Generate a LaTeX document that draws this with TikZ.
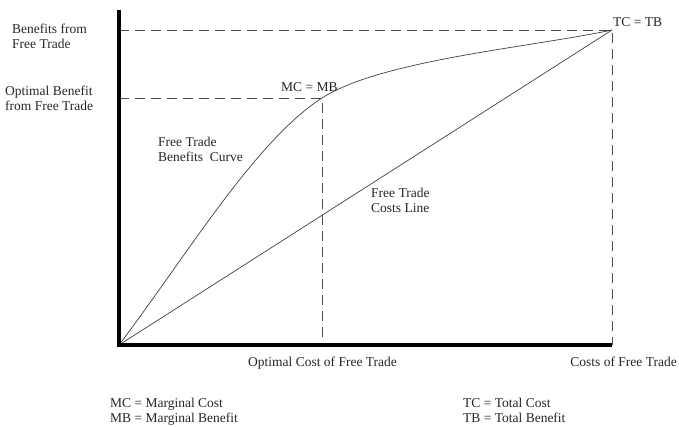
\documentclass[tikz,border=0pt]{standalone}
\usepackage{fontspec}
\setmainfont{Liberation Serif}
\usepackage{tikz}
\usetikzlibrary{positioning,calc}
\tikzset{
  axisline/.style={line width=3.4pt, black},
  curveline/.style={line width=0.7pt, black!75},
  guide/.style={line width=0.7pt, black!70, dash pattern=on 10pt off 6pt},
  lbl/.style={font=\fontsize{13.5}{15}\selectfont, align=left, inner sep=0pt, text=black!85}
}
\begin{document}
\begin{tikzpicture}[x=1pt, y=1pt]
  \useasboundingbox (0,0) rectangle (679,426);
  % key points
  \coordinate (o) at (119,81);
  \coordinate (ytop) at (119,416);
  \coordinate (xend) at (612,81);
  \coordinate (tctb) at (612,396);
  \coordinate (mcmb) at (322,328);
  \coordinate (ytc) at (119,396);
  \coordinate (ymb) at (119,328);
  \coordinate (xmb) at (322,81);
  % guides
  \draw[guide] (ytc) -- (tctb) -- (xend);
  \draw[guide] (ymb) -- (mcmb) -- (xmb);
  % cost line and benefit curve
  \draw[curveline] (o) -- (tctb);
  \draw[curveline] (o) .. controls (185,168) and (255,285) .. (mcmb)
                       .. controls (381,366) and (533,379) .. (tctb);
  % axes
  \draw[axisline] (ytop) -- (o) -- (xend);
  % labels
  \node[lbl, anchor=north west] (benefits) at (12,402) {Benefits from\\Free Trade};
  \node[lbl, anchor=north west] (optben) at (5,340) {Optimal Benefit\\from Free Trade};
  \node[lbl, anchor=base west] (mcmblbl) at (281,334) {MC = MB};
  \node[lbl, anchor=base west] (tctblbl) at ($(tctb)+(1,3)$) {TC = TB};
  \node[lbl, anchor=north west] (curvelbl) at (158,289) {Free Trade\\Benefits~~Curve};
  \node[lbl, anchor=north west] (linelbl) at (371,238) {Free Trade\\Costs Line};
  \node[lbl, anchor=base west] (optcost) at (248,60) {Optimal Cost of Free Trade};
  \node[lbl, anchor=base east] (costs) at (677,60) {Costs of Free Trade};
  \node[lbl, anchor=north west] (legmc) at (110,28) {MC = Marginal Cost\\MB = Marginal Benefit};
  \node[lbl, anchor=north west] (legtc) at (463,28) {TC = Total Cost\\TB = Total Benefit};
\end{tikzpicture}
\end{document}
